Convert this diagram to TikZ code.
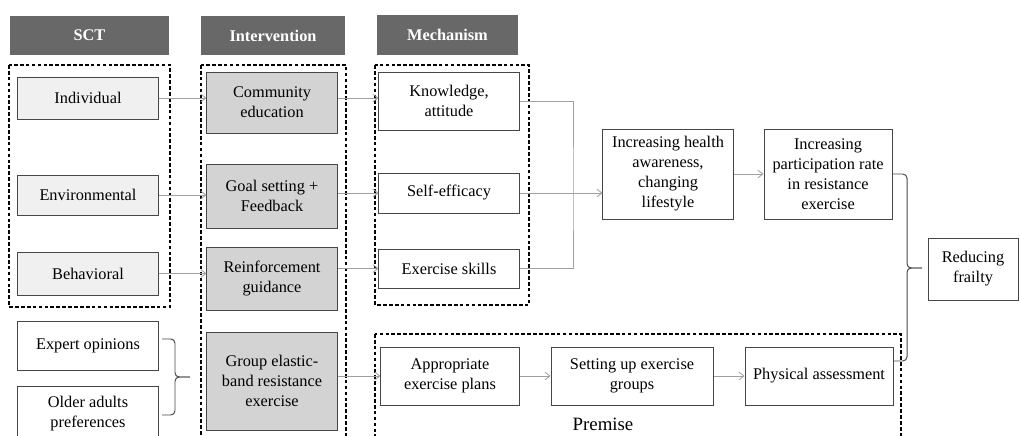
\documentclass[tikz,border=0pt]{standalone}
\usepackage{fontspec}
\setmainfont{Liberation Serif}
\usepackage{xcolor}
\usepackage{tikz}
\usetikzlibrary{arrows.meta}
\usetikzlibrary{positioning}

\definecolor{hdrgray}{RGB}{104,104,104}
\definecolor{sctfill}{RGB}{240,240,240}
\definecolor{intfill}{RGB}{211,211,211}
\definecolor{edgegray}{RGB}{70,70,70}
\definecolor{linkgray}{RGB}{160,160,160}

\begin{document}
\begin{tikzpicture}[x=0.025cm,y=-0.025cm,>={Straight Barb[length=3.5pt,width=5.5pt]},font=\fontsize{11.6}{14.2}\selectfont]
	\tikzstyle{box}=[draw=edgegray, line width=0.7pt, fill=white, align=center, inner sep=1pt]
	\tikzstyle{head}=[fill=hdrgray, text=white, font=\fontsize{11.6}{14}\selectfont\bfseries, minimum height=0.975cm, inner sep=0pt]
	\tikzstyle{sct}=[box, fill=sctfill, minimum width=3.5cm]
	\tikzstyle{intv}=[box, fill=intfill, minimum width=3.25cm]
	\tikzstyle{mech}=[box, minimum width=3.5cm]
	\tikzstyle{frame}=[draw=black, line width=1.1pt, dash pattern=on 2.6pt off 1.6pt]
	\tikzstyle{link}=[draw=linkgray, line width=0.6pt, ->]
	\tikzstyle{line}=[draw=linkgray, line width=0.6pt]
	\tikzstyle{brc}=[draw=edgegray, line width=0.7pt, rounded corners=3pt]
	\useasboundingbox (0,0) rectangle (1020,435);
	\clip (0,0) rectangle (1020,435);
	% dashed groups
	\draw[frame] (9,65) rectangle (170,307);
	\draw[frame] (201,65) rectangle (346,450);
	\draw[frame] (375,65) rectangle (529,305);
	\draw[frame] (375,334) rectangle (901,450);
	% headers
	\node[head, minimum width=3.975cm] (hsct)  at (89.5,35.5) {SCT};
	\node[head, minimum width=3.6cm]   (hint)  at (273,35.5)  {Intervention};
	\node[head, minimum width=3.525cm] (hmech) at (447.5,35)  {Mechanism};
	% SCT column
	\node[sct, minimum height=1.05cm]  (ind) at (88,98)    {Individual};
	\node[sct, minimum height=1.0cm]   (env) at (88,195)   {Environmental};
	\node[sct, minimum height=1.075cm] (beh) at (88,273.5) {Behavioral};
	\node[box, minimum width=3.5cm, minimum height=1.225cm] (exp) at (88,345.5) {Expert opinions};
	\node[box, minimum width=3.5cm, minimum height=1.4cm]   (old) at (88,414)   {Older adults\\preferences};
	% intervention column
	\node[intv, minimum height=1.525cm] (com)  at (272,102.5) {Community\\education};
	\node[intv, minimum height=1.6cm]   (goal) at (272,196)   {Goal setting +\\Feedback};
	\node[intv, minimum height=1.575cm] (rein) at (272,278.5) {Reinforcement\\guidance};
	\node[intv, minimum height=2.45cm]  (grp)  at (272,381)   {Group elastic-\\band resistance\\exercise};
	% mechanism column
	\node[mech, minimum height=1.45cm]  (know)  at (449,101)   {Knowledge,\\attitude};
	\node[mech, minimum height=1.0cm]   (self)  at (449,193)   {Self-efficacy};
	\node[mech, minimum height=0.975cm] (skill) at (449,268.5) {Exercise skills};
	% outcomes
	\node[box, minimum width=3.25cm, minimum height=2.25cm] (health) at (668,174) {Increasing health\\awareness,\\changing\\lifestyle};
	\node[box, minimum width=3.2cm, minimum height=2.25cm] (part) [right=0.75cm of health] {Increasing\\participation rate\\in resistance\\exercise};
	\node[box, minimum width=2.25cm, minimum height=1.55cm] (frail) at (973,269) {Reducing\\frailty};
	% premise row
	\node[box, minimum width=3.45cm, minimum height=1.45cm] (plan) at (450,376) {Appropriate\\exercise plans};
	\node[box, minimum width=4.05cm, minimum height=1.45cm] (setup) [right=0.775cm of plan] {Setting up exercise\\groups};
	\node[box, minimum width=3.7cm, minimum height=1.45cm] (phys) [right=0.775cm of setup] {Physical assessment};
	\node[font=\fontsize{13.4}{16}\selectfont] (prem) at (603,424) {Premise};
	% helper points
	\coordinate (jn) at (573,193);
	\coordinate (lv) at (175,377);
	\coordinate (ltip) at (190,377);
	\coordinate (le1) at (162,339);
	\coordinate (le2) at (162,415);
	\coordinate (rv) at (907,268);
	\coordinate (rtip) at (922,268);
	\coordinate (pe) at ([yshift=0.375cm]phys.east);
	% connectors
	\path
	(ind.east) edge[link] (ind.east -| com.west)
	(env.east) edge[link] (env.east -| goal.west)
	(beh.east) edge[link] (beh.east -| rein.west)
	(com.east |- ind) edge[link] (know.west |- ind)
	(goal.east |- self) edge[link] (self.west)
	(rein.east |- skill) edge[link] (skill.west)
	(grp.east |- plan) edge[link] (plan.west)
	(self.east) edge[link] (self.east -| health.west)
	(health) edge[link] (part)
	(plan) edge[link] (setup)
	(setup) edge[link] (phys);
	\draw[line] (know.east) -| (jn) |- (skill.east);
	% braces
	\draw[brc] (le1) -| (lv) -- (ltip);
	\draw[brc] (le2) -| (lv) -- (ltip);
	\draw[brc] (part.east) -| (rv) -- (rtip);
	\draw[brc] (pe) -| (rv) -- (rtip);
\end{tikzpicture}
\end{document}
